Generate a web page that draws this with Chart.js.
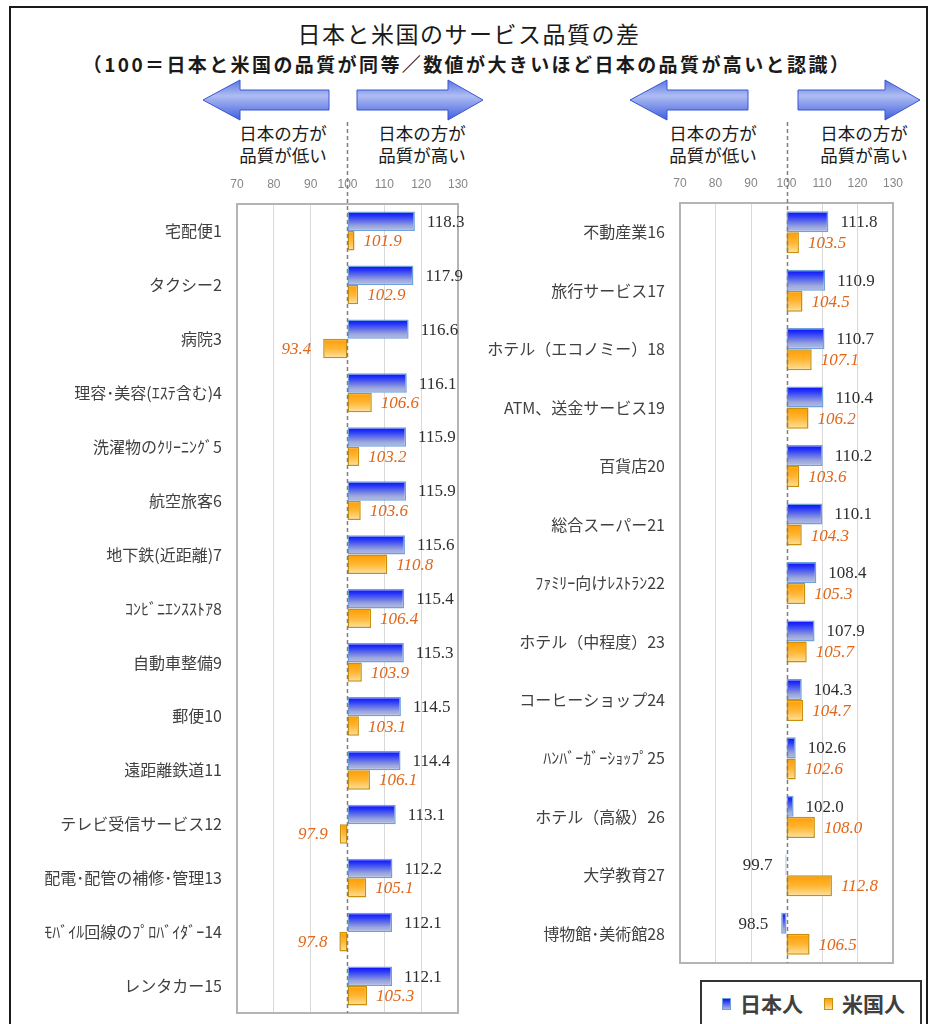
<!DOCTYPE html>
<html><head><meta charset="utf-8">
<script src="https://cdn.jsdelivr.net/npm/chart.js@4/dist/chart.umd.min.js"></script>
<style>
html,body{margin:0;padding:0;background:#fff;}
body{width:933px;height:1024px;overflow:hidden;position:relative;font-family:"Noto Sans CJK JP","Noto Sans",sans-serif;}
canvas{position:absolute;top:0;}
#frame{position:absolute;left:9px;top:6px;width:919px;height:1040px;border:2px solid #1a1a1a;box-sizing:border-box;pointer-events:none;}
.t{position:absolute;white-space:nowrap;transform:translate(-50%,-50%);color:#1a1a1a;}
.cap{position:absolute;white-space:nowrap;transform:translate(-50%,0);font-size:17.5px;line-height:22px;text-align:center;color:#1a1a1a;}
#legend{position:absolute;left:700px;top:980px;width:222px;height:60px;border:2px solid #333;box-sizing:border-box;background:#fff;}
.lg{position:absolute;font-size:21px;font-weight:bold;color:#404040;transform:translate(0,-50%);white-space:nowrap;}
.mk{position:absolute;width:7px;height:10px;}
svg{position:absolute;left:0;top:0;}
</style></head>
<body>
<div class="t" style="left:469px;top:33px;font-size:23px;letter-spacing:1.5px;">日本と米国のサービス品質の差</div>
<div class="t" style="left:467px;top:63px;font-size:19px;font-weight:bold;letter-spacing:2.4px;">（100＝日本と米国の品質が同等／数値が大きいほど日本の品質が高いと認識）</div>

<svg width="933" height="130">
<defs>
<linearGradient id="ag" x1="0" y1="0" x2="0" y2="1">
<stop offset="0" stop-color="#5a76e2"/><stop offset="0.4" stop-color="#aebdf3"/><stop offset="1" stop-color="#3f5fdc"/>
</linearGradient>
</defs>
<polygon points="203,100 240,80 240,90 329,90 329,110 240,110 240,120" fill="url(#ag)" stroke="#3a56d0" stroke-width="1"/>
<polygon points="483,100 448,80 448,90 357,90 357,110 448,110 448,120" fill="url(#ag)" stroke="#3a56d0" stroke-width="1"/>
<polygon points="630,100 667,80 667,90 748,90 748,110 667,110 667,120" fill="url(#ag)" stroke="#3a56d0" stroke-width="1"/>
<polygon points="920,100 885,80 885,90 798,90 798,110 885,110 885,120" fill="url(#ag)" stroke="#3a56d0" stroke-width="1"/>
</svg>

<div class="cap" style="left:283px;top:122px;">日本の方が<br>品質が低い</div>
<div class="cap" style="left:422px;top:122px;">日本の方が<br>品質が高い</div>
<div class="cap" style="left:713px;top:122px;">日本の方が<br>品質が低い</div>
<div class="cap" style="left:864px;top:122px;">日本の方が<br>品質が高い</div>

<canvas id="c1" width="480" height="1050" style="left:0;"></canvas>
<canvas id="c2" width="453" height="1024" style="left:480px;"></canvas>

<div id="legend">
  <div class="mk" style="left:20px;top:16px;background:linear-gradient(#1010ff,#a8b4e0);border:1px solid #6fa0dc;"></div>
  <div class="lg" style="left:38px;top:21px;">日本人</div>
  <div class="mk" style="left:122px;top:16px;background:linear-gradient(#ffa000,#ffe09a);border:1px solid #c8900c;"></div>
  <div class="lg" style="left:140px;top:21px;">米国人</div>
</div>
<div id="frame"></div>

<script>
// ---- data ----
const labelsLeft = ["宅配便1","タクシー2","病院3","理容･美容(ｴｽﾃ含む)4","洗濯物のｸﾘｰﾆﾝｸﾞ5","航空旅客6","地下鉄(近距離)7","ｺﾝﾋﾞﾆｴﾝｽｽﾄｱ8","自動車整備9","郵便10","遠距離鉄道11","テレビ受信サービス12","配電･配管の補修･管理13","ﾓﾊﾞｲﾙ回線のﾌﾟﾛﾊﾞｲﾀﾞｰ14","レンタカー15"];
const japanLeft = [118.3,117.9,116.6,116.1,115.9,115.9,115.6,115.4,115.3,114.5,114.4,113.1,112.2,112.1,112.1];
const usLeft    = [101.9,102.9,93.4,106.6,103.2,103.6,110.8,106.4,103.9,103.1,106.1,97.9,105.1,97.8,105.3];

const labelsRight = ["不動産業16","旅行サービス17","ホテル（エコノミー）18","ATM、送金サービス19","百貨店20","総合スーパー21","ﾌｧﾐﾘｰ向けﾚｽﾄﾗﾝ22","ホテル（中程度）23","コーヒーショップ24","ﾊﾝﾊﾞｰｶﾞｰｼｮｯﾌﾟ25","ホテル（高級）26","大学教育27","博物館･美術館28"];
const japanRight = [111.8,110.9,110.7,110.4,110.2,110.1,108.4,107.9,104.3,102.6,102.0,99.7,98.5];
const usRight    = [103.5,104.5,107.1,106.2,103.6,104.3,105.3,105.7,104.7,102.6,108.0,112.8,106.5];

const xTicks = [70,80,90,100,110,120,130];
const baseValue = 100;
const seriesNames = ["日本人","米国人"];

// ---- styles ----
const blueStops = [[0,'#0808ff'],[0.25,'#2a3af6'],[0.75,'#9aa6dc'],[1,'#b8c0e6']];
const orangeStops = [[0,'#ff9c00'],[0.5,'#ffb634'],[1,'#ffe29e']];

const gradPlugin = {
  id:'grad',
  beforeDatasetsDraw(chart){
    const ctx = chart.ctx, a = chart.chartArea;
    chart.data.datasets.forEach((ds,di)=>{
      const meta = chart.getDatasetMeta(di);
      meta.data.forEach(el=>{
        const top = el.y - el.height/2, bot = el.y + el.height/2;
        const g = ctx.createLinearGradient(0,top,0,bot);
        ds._stops.forEach(s=>g.addColorStop(s[0],s[1]));
        el.options = Object.assign({}, el.options, {backgroundColor:g});
      });
    });
    ctx.save();
    ctx.strokeStyle = '#b4b4b4'; ctx.lineWidth = 2;
    ctx.strokeRect(a.left, a.top, a.right-a.left, a.bottom-a.top);
    ctx.restore();
  },
  afterDatasetsDraw(chart){
    const ctx = chart.ctx, a = chart.chartArea;
    const xs = chart.scales.x;
    const x100 = Math.round(xs.getPixelForValue(baseValue))+0.5;
    ctx.save();
    ctx.strokeStyle = '#7f7f7f'; ctx.lineWidth = 1.5; ctx.setLineDash([4,3]);
    ctx.beginPath(); ctx.moveTo(x100, 122); ctx.lineTo(x100, a.bottom); ctx.stroke();
    ctx.restore();
    // value labels
    chart.data.datasets.forEach((ds,di)=>{
      const meta = chart.getDatasetMeta(di);
      meta.data.forEach((el,i)=>{
        const v = ds._values[i];
        const px = xs.getPixelForValue(v);
        ctx.save();
        ctx.font = ds._labelFont;
        ctx.fillStyle = ds._labelColor;
        ctx.textBaseline = 'middle';
        if (v >= baseValue){ ctx.textAlign='left'; ctx.fillText(v.toFixed(1), px + ds._labelOffset, el.y+1); }
        else { ctx.textAlign='right'; ctx.fillText(v.toFixed(1), px - ds._labelOffsetNeg, el.y+1); }
        ctx.restore();
      });
    });
  }
};

function makeChart(id, labels, jp, us, pad, yWidth){
  return new Chart(document.getElementById(id), {
    type:'bar',
    data:{
      labels: labels,
      datasets:[
        {label:seriesNames[0], data: jp.map(v=>[baseValue,v]), _values: jp, _stops: blueStops,
         borderColor:'#6fa0dc', borderWidth:1.5, borderSkipped:false,
         backgroundColor:'#4050f0',
         categoryPercentage:0.72, barPercentage:1.0,
         _labelFont:'17px "Liberation Serif", serif', _labelColor:'#2e2e2e', _labelOffset:12, _labelOffsetNeg:13},
        {label:seriesNames[1], data: us.map(v=>[baseValue,v]), _values: us, _stops: orangeStops,
         borderColor:'#c8900c', borderWidth:1.5, borderSkipped:false,
         backgroundColor:'#ffb020',
         categoryPercentage:0.72, barPercentage:1.0,
         _labelFont:'italic 17px "Liberation Serif", serif', _labelColor:'#e0661a', _labelOffset:9, _labelOffsetNeg:12}
      ]
    },
    options:{
      indexAxis:'y',
      responsive:false,
      animation:false,
      devicePixelRatio:1,
      layout:{padding:pad},
      plugins:{legend:{display:false}, tooltip:{enabled:false}},
      scales:{
        x:{
          type:'linear', position:'top', min:70, max:130,
          afterBuildTicks:(s)=>{ s.ticks = xTicks.map(v=>({value:v})); },
          afterFit:(s)=>{ s.height = 34; },
          ticks:{color:'#858585', font:{family:'"Liberation Sans", sans-serif', size:12}, padding:12, maxRotation:0, autoSkip:false},
          grid:{drawTicks:false, color:(c)=> (c.tick && (c.tick.value===70||c.tick.value===130||c.tick.value===baseValue)) ? 'rgba(0,0,0,0)' : '#d9d9d9', lineWidth:1},
          border:{display:false}
        },
        y:{
          afterFit:(s)=>{ s.width = yWidth; },
          ticks:{color:'#404040', font:{family:'"Noto Sans CJK JP", sans-serif', size:16}, padding:15, autoSkip:false},
          grid:{display:false, drawTicks:false},
          border:{display:false}
        }
      }
    },
    plugins:[gradPlugin]
  });
}

makeChart('c1', labelsLeft, japanLeft, usLeft, {top:170,bottom:37,left:0,right:20}, 237);
makeChart('c2', labelsRight, japanRight, usRight, {top:169,bottom:61,left:0,right:40}, 200);
</script>
</body></html>
